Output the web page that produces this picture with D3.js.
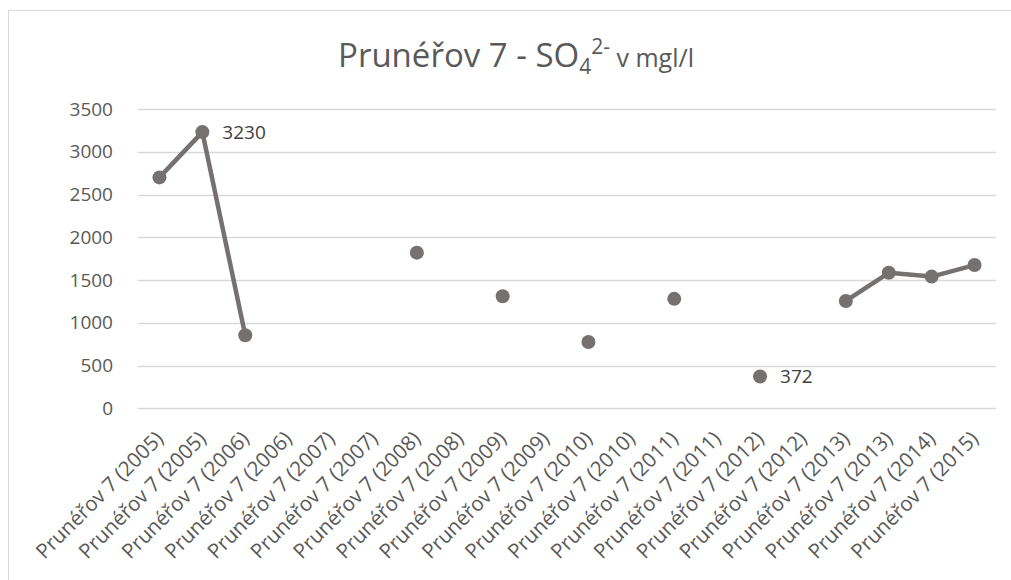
<!DOCTYPE html>
<html>
<head>
<meta charset="utf-8">
<script src="https://cdn.jsdelivr.net/npm/d3@7"></script>
<style>
  body { margin: 0; background: #fff; }
  svg { display: block; }
  text { font-family: "Open Sans", "Noto Sans", sans-serif; }
</style>
</head>
<body>
<svg id="chart" width="1011" height="580"></svg>
<script>
const categories = [
  "Prunéřov 7 (2005)", "Prunéřov 7 (2005)", "Prunéřov 7 (2006)", "Prunéřov 7 (2006)",
  "Prunéřov 7 (2007)", "Prunéřov 7 (2007)", "Prunéřov 7 (2008)", "Prunéřov 7 (2008)",
  "Prunéřov 7 (2009)", "Prunéřov 7 (2009)", "Prunéřov 7 (2010)", "Prunéřov 7 (2010)",
  "Prunéřov 7 (2011)", "Prunéřov 7 (2011)", "Prunéřov 7 (2012)", "Prunéřov 7 (2012)",
  "Prunéřov 7 (2013)", "Prunéřov 7 (2013)", "Prunéřov 7 (2014)", "Prunéřov 7 (2015)"
];
const values = [2700, 3230, 855, null, null, null, 1820, null, 1310, null,
                775, null, 1280, null, 372, null, 1255, 1585, 1540, 1675];
const labelled = [1, 14];
const yTicks = [0, 500, 1000, 1500, 2000, 2500, 3000, 3500];

const svg = d3.select("#chart");
const color = "#767171";
const textColor = "#595959";

// chart border
svg.append("rect").attr("x", 8.5).attr("y", 10.5).attr("width", 1010).attr("height", 580)
  .attr("fill", "#fff").attr("stroke", "#d9d9d9").attr("stroke-width", 1);

const x = d3.scaleBand().domain(d3.range(categories.length)).range([138, 996]).padding(0);
const y = d3.scaleLinear().domain([0, 3500]).range([408.3, 109]);
const cx = i => x(i) + x.bandwidth() / 2;

// gridlines
svg.append("g").selectAll("line").data(yTicks).join("line")
  .attr("x1", 138).attr("x2", 996)
  .attr("y1", d => Math.round(y(d)) + 0.5).attr("y2", d => Math.round(y(d)) + 0.5)
  .attr("stroke", "#d9d9d9").attr("stroke-width", 1.3);

// y axis
const yAxis = svg.append("g").attr("transform", "translate(121,0)")
  .call(d3.axisLeft(y).tickValues(yTicks).tickSize(0).tickPadding(8).tickFormat(d3.format("d")));
yAxis.select(".domain").remove();
yAxis.selectAll("text").attr("fill", textColor).style("font-size", "19px")
  .style("font-family", '"Open Sans", sans-serif');

// x axis
const xAxis = svg.append("g").attr("transform", "translate(0,408)")
  .call(d3.axisBottom(x).tickSize(0).tickFormat(i => categories[i]));
xAxis.select(".domain").remove();
xAxis.selectAll("text")
  .attr("fill", textColor).style("font-size", "20.5px")
  .style("font-family", '"Open Sans", sans-serif')
  .attr("text-anchor", "end")
  .attr("dy", null).attr("y", 0)
  .attr("transform", "translate(5,32) rotate(-45)");

// line with gaps
const line = d3.line().defined(d => d != null).x((d, i) => cx(i)).y(d => y(d));
svg.append("path").datum(values).attr("d", line)
  .attr("fill", "none").attr("stroke", color).attr("stroke-width", 4.5)
  .attr("stroke-linejoin", "round");

// markers
const pts = values.map((v, i) => ({ v, i })).filter(d => d.v != null);
svg.append("g").selectAll("circle").data(pts).join("circle")
  .attr("cx", d => cx(d.i)).attr("cy", d => y(d.v)).attr("r", 7)
  .attr("fill", color);

// data labels
svg.append("g").selectAll("text").data(pts.filter(d => labelled.includes(d.i))).join("text")
  .attr("x", d => cx(d.i) + 20).attr("y", d => y(d.v) + 7)
  .attr("fill", "#404040").style("font-size", "19px")
  .text(d => d.v);

// title
const title = svg.append("text").attr("x", 516).attr("y", 67).attr("text-anchor", "middle")
  .attr("fill", textColor).style("font-size", "33px");
title.append("tspan").text("Prunéřov 7 - SO");
title.append("tspan").style("font-size", "21px").attr("dy", 7).text("4");
title.append("tspan").style("font-size", "21px").attr("dy", -20).text("2-");
title.append("tspan").style("font-size", "25px").attr("dy", 13).text(" v mgl/l");
</script>
</body>
</html>
